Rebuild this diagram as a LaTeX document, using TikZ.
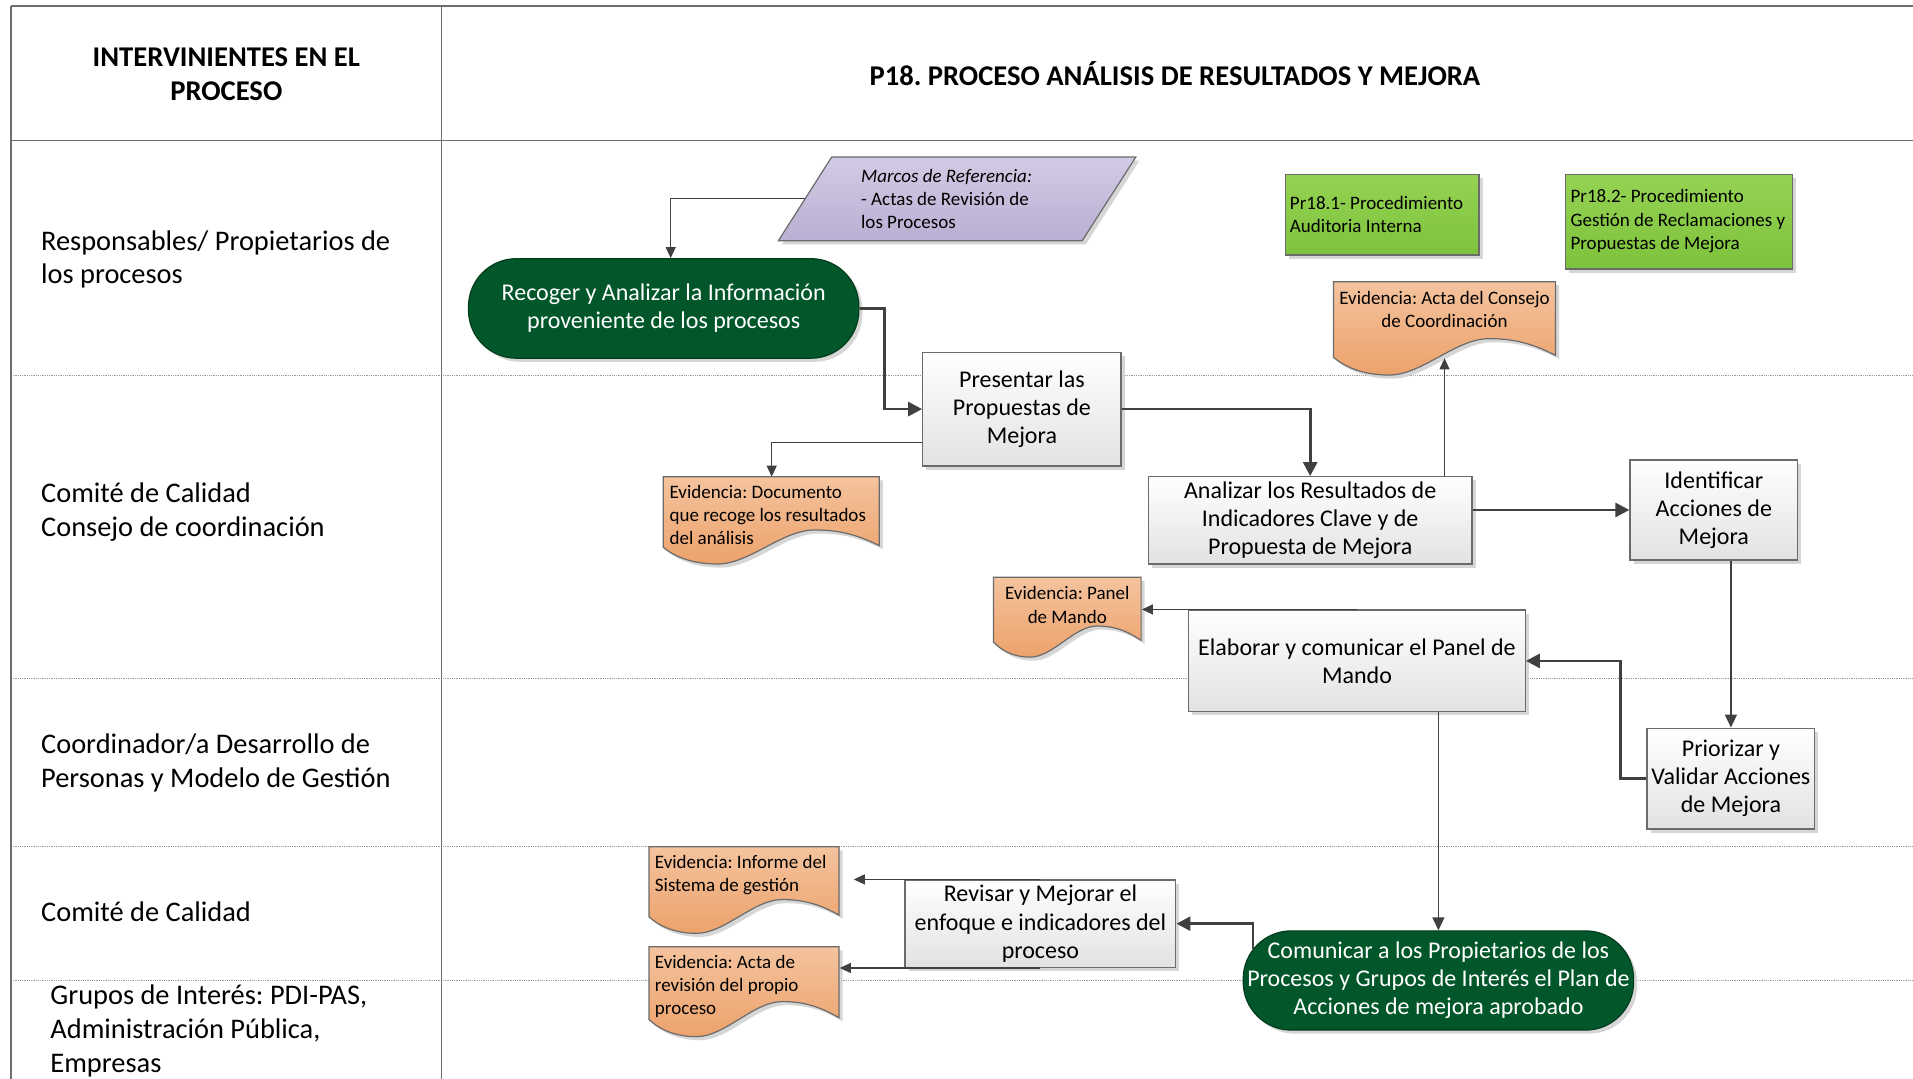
\documentclass[tikz,border=0pt]{standalone}
\usepackage{fontspec}
\setmainfont{Carlito}
\frenchspacing
\usetikzlibrary{arrows.meta,shadows}

\definecolor{linecol}{HTML}{404040}
\definecolor{framecol}{HTML}{6E6E6E}
\definecolor{sepcol}{HTML}{9C9C9C}
\definecolor{boxline}{HTML}{6B6B6B}
\definecolor{boxbot}{HTML}{E2E2E2}
\definecolor{termgreen}{HTML}{02572A}
\definecolor{limetop}{HTML}{95D353}
\definecolor{limebot}{HTML}{7DC23C}
\definecolor{orgtop}{HTML}{F4C39E}
\definecolor{orgbot}{HTML}{EDA26B}
\definecolor{lavtop}{HTML}{D2CBE4}
\definecolor{lavbot}{HTML}{B9AFD3}
\definecolor{shadowcol}{HTML}{D2D2D2}

\tikzset{
  softshadow/.style={drop shadow={shadow xshift=1.8pt, shadow yshift=-1.8pt, fill=shadowcol, opacity=0.9}},
  procbox/.style={draw=boxline, line width=0.6pt, top color=white, bottom color=boxbot, softshadow,
    align=center, inner sep=1pt, font=\fontsize{12}{14.1}\selectfont},
  terminal/.style={draw=termgreen!70!black, line width=0.6pt, fill=termgreen, text=white,
    rounded corners=24pt, softshadow, align=center, inner sep=1pt, font=\fontsize{12}{14.1}\selectfont},
  limebox/.style={draw=boxline, line width=0.6pt, top color=limetop, bottom color=limebot, softshadow, inner sep=0pt},
  docshape/.style={draw=boxline, line width=0.6pt, top color=orgtop, bottom color=orgbot, softshadow},
  datashape/.style={draw=boxline, line width=0.6pt, top color=lavtop, bottom color=lavbot, softshadow},
  frame/.style={inner sep=0pt, draw=none},
  smalltext/.style={font=\fontsize{9.5}{11.6}\selectfont, inner sep=0pt},
  lanetext/.style={font=\fontsize{14.2}{16.8}\selectfont, align=left, anchor=west, inner sep=0pt},
  headtext/.style={font=\bfseries\fontsize{14.3}{16.8}\selectfont, align=center, inner sep=0pt},
  lightflow/.style={draw=linecol, line width=0.55pt, -{Triangle[length=5.5pt,width=5pt]}},
  midflow/.style={draw=linecol, line width=0.9pt, -{Triangle[length=6.5pt,width=6pt]}},
  heavyflow/.style={draw=linecol, line width=1.4pt, -{Triangle[length=7pt,width=7pt]}},
  frameline/.style={draw=framecol, line width=0.8pt},
  laneline/.style={draw=sepcol, line width=0.6pt, dash pattern=on 0.5pt off 0.4pt},
}

% box given by its corners (x1,y1) (x2,y2)
\newcommand\flowbox[7]{%
  \node[#6, minimum width={(#4-#2)*0.61pt}, minimum height={(#5-#3)*0.61pt}]
    (#1) at ({(#2+#4)/2},{(#3+#5)/2}) {#7};}

% document symbol with a wavy lower edge: top-left (x,y), width w, height h
\newcommand\docpath[4]{%
  \path[docshape] (#1,#2) -- ({#1+#3},#2) -- ({#1+#3},{#2+0.79*#4})
    .. controls ({#1+0.88*#3},{#2+0.64*#4}) and ({#1+0.79*#3},{#2+0.61*#4}) .. ({#1+0.70*#3},{#2+0.61*#4})
    .. controls ({#1+0.55*#3},{#2+0.61*#4}) and ({#1+0.40*#3},{#2+#4}) .. ({#1+0.25*#3},{#2+#4})
    .. controls ({#1+0.13*#3},{#2+#4}) and ({#1+0.05*#3},{#2+0.91*#4}) .. (#1,{#2+0.81*#4}) -- cycle;}

\begin{document}
\begin{tikzpicture}[x=0.61pt, y=-0.61pt]
\useasboundingbox (0,0) rectangle (1568,884);
\fill[white] (0,0) rectangle (1568,884);

% swimlane grid
\draw[laneline] (9,308) -- (1568,308);
\draw[laneline] (9,556) -- (1568,556);
\draw[laneline] (9,694) -- (1568,694);
\draw[laneline] (9,803.5) -- (1568,803.5);
\draw[frameline] (9,5) -- (1568,5);
\draw[frameline] (9,115) -- (1568,115);
\draw[frameline] (9,5) -- (9,884);
\draw[frameline] (362,5) -- (362,884);

% headings
\node[headtext] (headleft) at (185.5,61) {INTERVINIENTES EN EL\\PROCESO};
\node[headtext] (title) at (963,60) {P18. PROCESO ANÁLISIS DE RESULTADOS Y MEJORA};

% lane names
\node[lanetext] (lane1) at (33.4,212.5) {Responsables/ Propietarios de\\los procesos};
\node[lanetext] (lane2) at (33.4,419.5) {Comité de Calidad\\Consejo de coordinación};
\node[lanetext] (lane3) at (33.4,625.5) {Coordinador/a Desarrollo de\\Personas y Modelo de Gestión};
\node[lanetext, anchor=base west] (lane4) at (33.4,755.5) {Comité de Calidad};
\node[lanetext] (lane5) at (41,845) {Grupos de Interés: PDI-PAS,\\Administración Pública,\\Empresas};

% reference data
\path[datashape] (681.7,128.7) -- (931,128.7) -- (887,197.3) -- (638,197.3) -- cycle;
\node[smalltext, align=left, anchor=west] (marcos) at (705.5,163)
  {\textit{Marcos de Referencia:}\\- Actas de Revisión de\\los Procesos};
\coordinate (marcosout) at (660,163);

% related procedures
\node[limebox, minimum width={158.8*0.61pt}, minimum height={65.9*0.61pt}, anchor=north west] (pr181) at (1053,142.6) {};
\node[smalltext, align=left, anchor=west] (pr181t) at (1057,175.5) {Pr18.1- Procedimiento\\Auditoria Interna};
\node[limebox, minimum width={186.4*0.61pt}, minimum height={77.4*0.61pt}, anchor=north west] (pr182) at (1282.4,142.6) {};
\node[smalltext, align=left, anchor=west] (pr182t) at (1287,181.3) {Pr18.2- Procedimiento\\Gestión de Reclamaciones y\\Propuestas de Mejora};

% process steps
\flowbox{recoger}{384}{212}{704}{293.6}{terminal}{Recoger y Analizar la Información\\proveniente de los procesos}
\flowbox{presentar}{756.3}{288.6}{918.9}{382}{procbox}{Presentar las\\Propuestas de\\Mejora}
\flowbox{analizar}{941.3}{390.7}{1206.5}{462.3}{procbox}{Analizar los Resultados de\\Indicadores Clave y de\\Propuesta de Mejora}
\flowbox{identificar}{1336}{377}{1473.5}{459}{procbox}{Identificar\\Acciones de\\Mejora}
\flowbox{elaborar}{974.3}{500}{1250.2}{583.4}{procbox}{Elaborar y comunicar el Panel de\\Mando}
\flowbox{priorizar}{1350}{596.8}{1487.5}{679.5}{procbox}{Priorizar y\\Validar Acciones\\de Mejora}
\flowbox{revisar}{741.8}{721.3}{963.8}{792.9}{procbox}{Revisar y Mejorar el\\enfoque e indicadores del\\proceso}
\flowbox{comunicar}{1019}{763}{1339}{844.3}{terminal}{Comunicar a los Propietarios de los\\Procesos y Grupos de Interés el Plan de\\Acciones de mejora aprobado}

% evidence documents
\docpath{543.7}{390.7}{177}{71.6}
\node[frame, minimum width={177*0.61pt}, minimum height={71.6*0.61pt}, anchor=north west] (docres) at (543.7,390.7) {};
\node[smalltext, align=left, anchor=north west] (docrest) at (548.5,397.5) {Evidencia: Documento\\que recoge los resultados\\del análisis};

\docpath{1093}{230.9}{182}{76.5}
\node[frame, minimum width={182*0.61pt}, minimum height={76.5*0.61pt}, anchor=north west] (actacons) at (1093,230.9) {};
\node[smalltext, align=center, anchor=north] (actaconst) at (1184,238.5) {Evidencia: Acta del Consejo\\de Coordinación};
\coordinate (actain) at (1184,293.7);

\docpath{814.3}{473.2}{121}{65.4}
\node[frame, minimum width={121*0.61pt}, minimum height={65.4*0.61pt}, anchor=north west] (panelev) at (814.3,473.2) {};
\node[smalltext, align=center, anchor=north] (panelevt) at (874.8,480.5) {Evidencia: Panel\\de Mando};

\docpath{532}{694}{155.7}{71}
\node[frame, minimum width={155.7*0.61pt}, minimum height={71*0.61pt}, anchor=north west] (informe) at (532,694) {};
\node[smalltext, align=left, anchor=north west] (informet) at (536.5,700.5) {Evidencia: Informe del\\Sistema de gestión};
\coordinate (informein) at ([xshift=7pt]informe.east);

\docpath{532}{776}{155.7}{73.7}
\node[frame, minimum width={155.7*0.61pt}, minimum height={73.7*0.61pt}, anchor=north west] (actarev) at (532,776) {};
\node[smalltext, align=left, anchor=north west] (actarevt) at (536.5,782.5) {Evidencia: Acta de\\revisión del propio\\proceso};

% connectors
\draw[lightflow] (marcosout) -| ([xshift=3.5pt]recoger.north);
\draw[heavyflow] (recoger.east) -- ++(20.6,0) |- (presentar.west);
\draw[lightflow] ([yshift=-16.8pt]presentar.west) -| (docres.north);
\draw[heavyflow] (presentar.east) -| (analizar.north);
\draw[lightflow] (analizar.north -| actain) -- (actain);
\draw[heavyflow] (analizar.east |- identificar.west) -- (identificar.west);
\draw[midflow] (priorizar.north |- identificar.south) -- (priorizar.north);
\draw[heavyflow] (priorizar.west) -- ++(-21,0) |- (elaborar.east);
\draw[lightflow] (elaborar.north) -- (panelev.east |- elaborar.north);
\draw[midflow] (comunicar.north |- elaborar.south) -- (comunicar.north);
\draw[heavyflow] ([shift={(8.5,15)}]comunicar.north west) |- (revisar.east);
\draw[lightflow] (revisar.north) -- (informein |- revisar.north);
\draw[lightflow] (revisar.south) -- (actarev.east |- revisar.south);
\end{tikzpicture}
\end{document}
